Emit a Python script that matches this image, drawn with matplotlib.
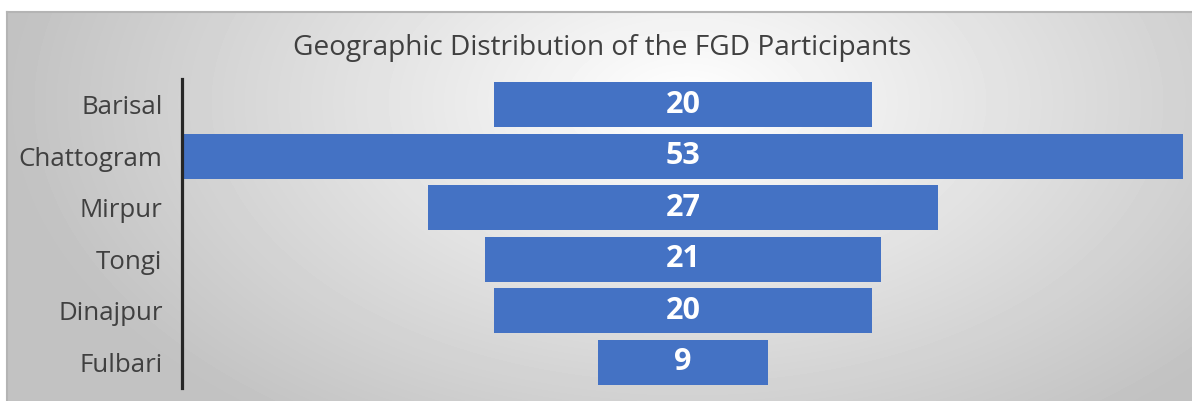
import numpy as np
import matplotlib
matplotlib.use('Agg')
import matplotlib.pyplot as plt

regions = ['Barisal', 'Chattogram', 'Mirpur', 'Tongi', 'Dinajpur', 'Fulbari']
participants = [20, 53, 27, 21, 20, 9]

W, H = 1192, 401
plt.rcParams['font.family'] = ['Open Sans', 'DejaVu Sans']

fig = plt.figure(figsize=(W / 100, H / 100), dpi=100)
fig.patch.set_facecolor('white')

# framed background with a soft radial grey gradient
bg = fig.add_axes([7 / W, 0, 1 - 7 / W, 1 - 12 / H])
yy, xx = np.mgrid[0:389, 0:1185]
cx, cy = 680, 90
r = np.sqrt(((xx - cx) / 680.0) ** 2 + ((yy - cy) / 400.0) ** 2)
r = np.clip(r, 0, 1)
shade = 1.0 - 0.24 * r
bg.imshow(shade, cmap='gray', vmin=0, vmax=1, aspect='auto', interpolation='bilinear')
bg.set_xticks([])
bg.set_yticks([])
for side in ['right', 'bottom']:
    bg.spines[side].set_visible(False)
for side in ['top', 'left']:
    bg.spines[side].set_color('#b4b4b4')
    bg.spines[side].set_linewidth(1.5)

ax = fig.add_axes([182 / W, 13 / H, 1002 / W, 309 / H])
ax.patch.set_alpha(0)
pos = np.arange(len(regions))
vals = np.array(participants)
ax.barh(pos, vals, left=-vals / 2, height=0.87, color='#4472C4')
for p, v in zip(pos, vals):
    ax.text(0, p, str(v), ha='center', va='center', color='white',
            fontsize=22, fontweight='bold')

ax.set_xlim(-26.55, 26.55)
ax.set_ylim(len(regions) - 0.5, -0.5)
ax.set_yticks(pos)
ax.set_yticklabels(regions, fontsize=18.6, color='#404040')
ax.tick_params(axis='y', length=0, pad=14)
ax.set_xticks([])
for side in ['top', 'right', 'bottom']:
    ax.spines[side].set_visible(False)
ax.spines['left'].set_color('#262626')
ax.spines['left'].set_linewidth(2.3)

fig.text(602 / W, 1 - 48 / H, 'Geographic Distribution of the FGD Participants',
         ha='center', va='center', fontsize=20.2, color='#404040')

fig.savefig('out.png', dpi=100)
